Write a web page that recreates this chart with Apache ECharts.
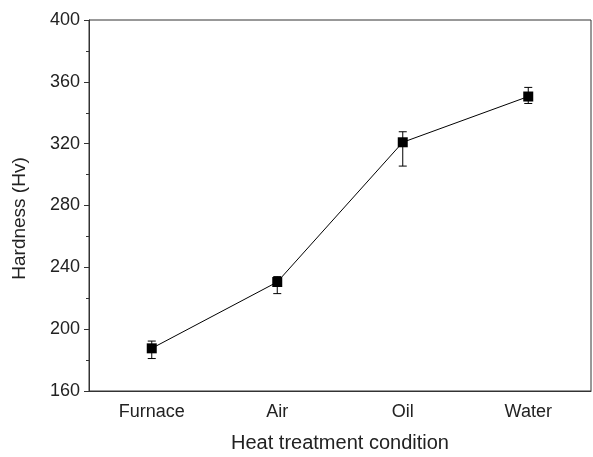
<!DOCTYPE html>
<html>
<head>
<meta charset="utf-8">
<script src="https://cdn.jsdelivr.net/npm/echarts@6/dist/echarts.min.js"></script>
<style>
html, body { margin: 0; padding: 0; background: #fff; }
#main { width: 593px; height: 457px; }
</style>
</head>
<body>
<div id="main"></div>
<script>
var conditions = ['Furnace', 'Air', 'Oil', 'Water'];
var hardness = [187.6, 230.5, 320.9, 350.5];
var errLow = [181, 223, 305.5, 346];
var errHigh = [192.3, 234, 327.7, 356.4];

var chart = echarts.init(document.getElementById('main'));
var font = 'Liberation Sans, Arial, sans-serif';

var option = {
    animation: false,
    grid: {
        left: 89, top: 20, right: 2, bottom: 66,
        outerBoundsMode: 'none',
        containLabel: false,
        show: true, borderColor: '#333', borderWidth: 1
    },
    xAxis: {
        type: 'category',
        data: conditions,
        boundaryGap: true,
        name: 'Heat treatment condition',
        nameLocation: 'middle',
        nameGap: 42,
        nameTextStyle: { fontFamily: font, fontSize: 20, color: '#222' },
        axisLine: { lineStyle: { color: '#333', width: 1 } },
        axisTick: { alignWithLabel: true, inside: false, length: 5, lineStyle: { color: '#333' } },
        axisLabel: { fontFamily: font, fontSize: 18, color: '#222', margin: 12 },
        splitLine: { show: false }
    },
    yAxis: {
        type: 'value',
        min: 160, max: 400, interval: 40,
        name: 'Hardness (Hv)',
        nameLocation: 'middle',
        nameGap: 60,
        nameTextStyle: { fontFamily: font, fontSize: 19, color: '#222', padding: [0, 26, 0, 0] },
        axisLine: { show: true, lineStyle: { color: '#333', width: 1 } },
        axisTick: { show: true, length: 5, lineStyle: { color: '#333' } },
        minorTick: { show: true, splitNumber: 2, length: 3, lineStyle: { color: '#333' } },
        axisLabel: { fontFamily: font, fontSize: 18, color: '#222', margin: 9 },
        splitLine: { show: false }
    },
    series: [
        {
            type: 'line',
            data: hardness,
            symbol: 'rect',
            symbolSize: 10,
            itemStyle: { color: '#000' },
            lineStyle: { color: '#000', width: 1 },
            z: 3
        },
        {
            type: 'custom',
            data: conditions.map(function (c, i) { return [i, errLow[i], errHigh[i]]; }),
            renderItem: function (params, api) {
                var lo = api.coord([api.value(0), api.value(1)]);
                var hi = api.coord([api.value(0), api.value(2)]);
                var w = 4;
                var style = { stroke: '#000', lineWidth: 1 };
                return {
                    type: 'group',
                    children: [
                        { type: 'line', shape: { x1: hi[0], y1: hi[1], x2: lo[0], y2: lo[1] }, style: style },
                        { type: 'line', shape: { x1: hi[0] - w, y1: hi[1], x2: hi[0] + w, y2: hi[1] }, style: style },
                        { type: 'line', shape: { x1: lo[0] - w, y1: lo[1], x2: lo[0] + w, y2: lo[1] }, style: style }
                    ]
                };
            },
            encode: { x: 0, y: [1, 2] },
            z: 2
        }
    ]
};

chart.setOption(option);
</script>
</body>
</html>
